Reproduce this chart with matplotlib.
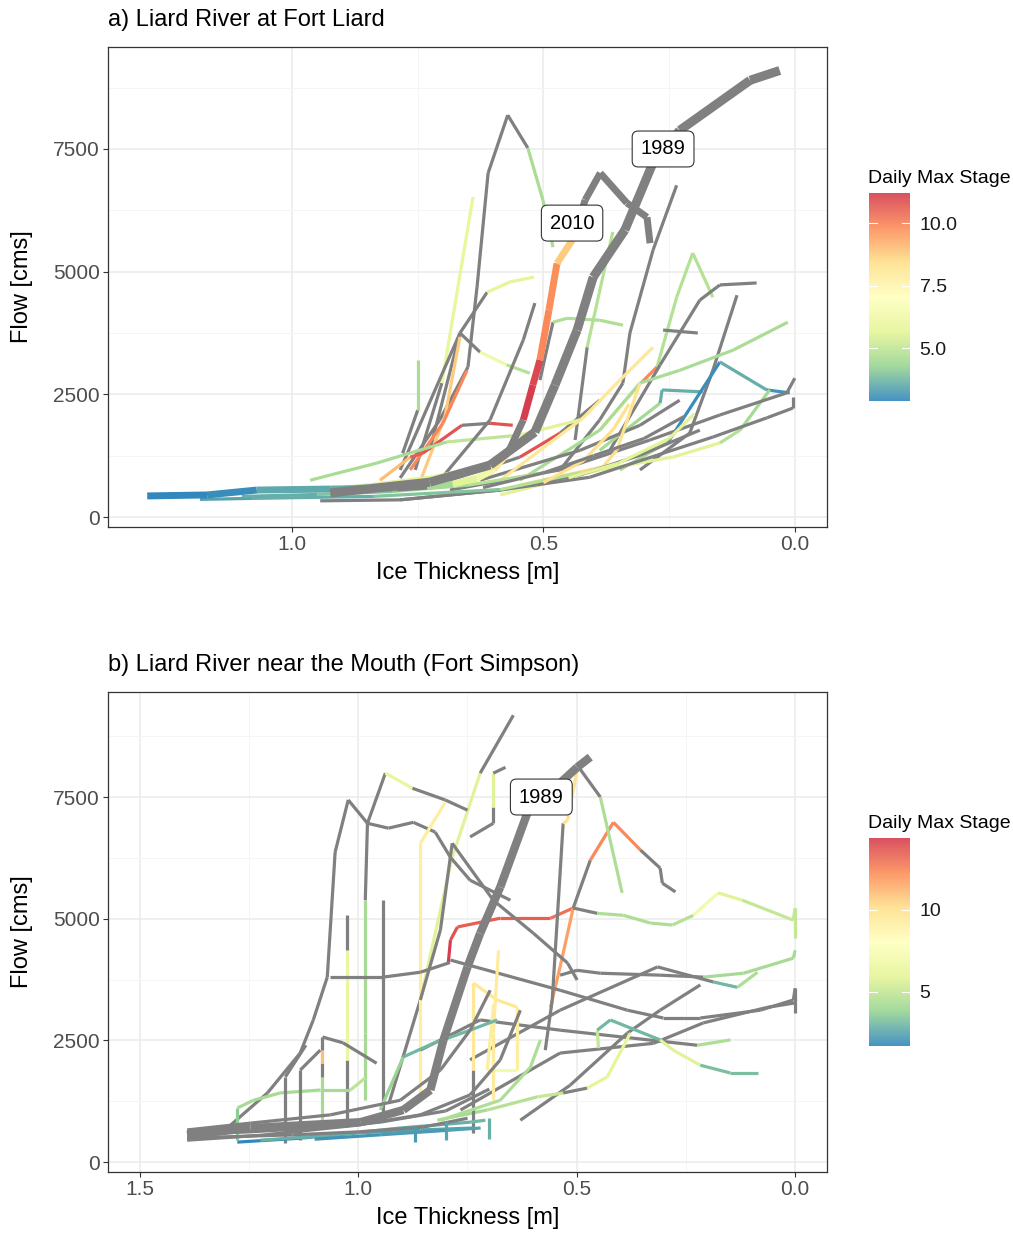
import numpy as np
import matplotlib
matplotlib.use("Agg")
import matplotlib.pyplot as plt
from matplotlib.collections import LineCollection
from matplotlib.colors import LinearSegmentedColormap, Normalize
from matplotlib.cm import ScalarMappable

plt.rcParams['font.family'] = ['Liberation Sans', 'DejaVu Sans']

nan = np.nan

# ---------------- a) Liard River at Fort Liard ----------------
# ice thickness [m], flow [cms], daily max stage (nan = no stage, drawn grey)
a1989_ice = [0.924, 0.726, 0.606, 0.517, 0.477, 0.433, 0.401, 0.338, 0.284, 0.229, 0.089, 0.030]
a1989_q = [490, 710, 1060, 1730, 2690, 3810, 4890, 5850, 7170, 7880, 8900, 9100]
a1989_stg = [nan] * 12

a2010_ice = [1.288, 1.169, 1.070, 0.924, 0.791, 0.731, 0.680, 0.632, 0.600, 0.570, 0.540,
             0.521, 0.507, 0.489, 0.473, 0.443, 0.417, 0.387, 0.334, 0.294, 0.288]
a2010_q = [430, 450, 550, 570, 590, 630, 670, 790, 960, 1320, 1980,
           2690, 3200, 4220, 5170, 5640, 6460, 7010, 6400, 6110, 5580]
a2010_stg = [2.9, 3.0, 3.5, 3.6, nan, 4.5, 5.6, 6.2, 8.0, nan, 11.2,
             11.0, 9.9, 9.8, 8.8, nan, nan, nan, nan, nan, nan]

a01_ice = [0.785, 0.706, 0.650, 0.632, 0.610, 0.571, 0.531, 0.501, 0.481]
a01_q = [795, 1980, 3060, 4690, 7010, 8190, 7520, 6460, 5500]
a01_stg = [nan, nan, nan, nan, nan, nan, 4.6, 4.6, 4.6]

a02_ice = [0.755, 0.702, 0.640]
a02_q = [960, 2730, 6520]
a02_stg = [nan, 5.8, 5.8]

a03_ice = [0.785, 0.666, 0.612, 0.567, 0.519]
a03_q = [960, 3750, 4580, 4790, 4890]
a03_stg = [nan, nan, 5.7, 5.7, 5.7]

a04_ice = [0.726, 0.666, 0.626, 0.573, 0.527]
a04_q = [1360, 3750, 3360, 3100, 2930]
a04_stg = [nan, nan, 6.2, 4.8, 4.8]

a05_ice = [0.742, 0.696, 0.666]
a05_q = [810, 2040, 3670]
a05_stg = [8.8, 8.8, 8.8]

a06_ice = [0.765, 0.700, 0.652]
a06_q = [960, 1910, 2990]
a06_stg = [9.9, 9.9, 9.9]

a07_ice = [0.825, 0.765, 0.740, 0.662, 0.606, 0.561]
a07_q = [750, 1220, 1300, 1870, 1910, 1870]
a07_stg = [9.0, 10.6, 10.8, nan, 10.8, 10.8]

a08_ice = [0.686, 0.547, 0.467, 0.388]
a08_q = [750, 1220, 1710, 2380]
a08_stg = [nan, 10.8, nan, nan]

a09_ice = [0.467, 0.388, 0.342, 0.328, 0.282, 0.235]
a09_q = [960, 1980, 2730, 3750, 5440, 6760]
a09_stg = [nan] * 6

a10_ice = [0.437, 0.413, 0.362]
a10_q = [1570, 3460, 5810]
a10_stg = [nan, 4.8, 4.8]

a11_ice = [0.507, 0.481, 0.453, 0.388, 0.342]
a11_q = [2790, 3970, 4050, 4010, 3910]
a11_stg = [nan, 4.7, 4.7, 4.7, 4.7]

a12_ice = [0.388, 0.306, 0.274, 0.235, 0.203, 0.163]
a12_q = [1770, 2730, 3060, 4480, 5380, 4480]
a12_stg = [8.0, 9.9, 4.8, 4.8, 4.8, 4.8]

a13_ice = [0.368, 0.268, 0.189, 0.149, 0.076]
a13_q = [1360, 3100, 4420, 4730, 4770]
a13_stg = [nan] * 5

a14_ice = [0.262, 0.193]
a14_q = [3810, 3750]
a14_stg = [nan, nan]

a15_ice = [0.308, 0.209, 0.163, 0.115]
a15_q = [960, 1710, 2990, 4520]
a15_stg = [nan] * 4

a16_ice = [0.547, 0.388, 0.308, 0.229, 0.123, 0.014]
a16_q = [750, 1770, 2730, 2990, 3400, 3970]
a16_stg = [4.6] * 6

a17_ice = [0.388, 0.268, 0.264, 0.183]
a17_q = [1360, 2320, 2590, 2550]
a17_stg = [4.5, 3.6, 3.6, 3.6]

a18_ice = [0.348, 0.252, 0.149, 0.056, 0.010]
a18_q = [960, 1530, 3160, 2590, 2530]
a18_stg = [4.5, 3.0, 3.6, 3.1, 3.1]

a19_ice = [0.586, 0.388, 0.243, 0.149, 0.109, 0.050]
a19_q = [450, 960, 1220, 1510, 1770, 2590]
a19_stg = [5.6, 5.6, 5.6, 4.8, 4.5, 4.5]

a20_ice = [0.785, 0.586, 0.408, 0.274, 0.163, 0.056, 0.004, 0.004]
a20_q = [350, 550, 810, 1260, 1630, 2020, 2220, 2450]
a20_stg = [nan] * 8

a21_ice = [0.686, 0.467, 0.288, 0.149, 0.016, 0.0]
a21_q = [550, 960, 1570, 2080, 2530, 2830]
a21_stg = [nan] * 6

a22_ice = [0.626, 0.427, 0.308, 0.229]
a22_q = [750, 1360, 1870, 2380]
a22_stg = [nan] * 4

a23_ice = [0.586, 0.421, 0.348, 0.282]
a23_q = [750, 2020, 2790, 3460]
a23_stg = [8.1] * 4

a24_ice = [0.547, 0.382, 0.354, 0.308]
a24_q = [650, 1020, 1360, 2730]
a24_stg = [8.6, 8.4, 8.3, 8.3]

a25_ice = [0.944, 0.785, 0.586, 0.427, 0.308, 0.189]
a25_q = [330, 350, 550, 860, 1260, 1770]
a25_stg = [nan] * 6

a26_ice = [1.183, 1.078, 0.839, 0.586, 0.427]
a26_q = [360, 380, 420, 560, 900]
a26_stg = [3.4, 3.6, 4.0, 4.8, 4.8]

a27_ice = [0.964, 0.831, 0.692, 0.547, 0.427]
a27_q = [750, 1100, 1530, 1670, 1980]
a27_stg = [4.6, 4.6, 5.0, 5.6, 5.6]

a28_ice = [0.780, 0.750, 0.750]
a28_q = [1300, 2180, 3200]
a28_stg = [nan, 4.6, 4.6]

a29_ice = [0.706, 0.606, 0.540, 0.517]
a29_q = [750, 1980, 3610, 4360]
a29_stg = [nan] * 4

a30_ice = [1.10, 0.95, 0.80, 0.65, 0.50]
a30_q = [420, 460, 520, 650, 900]
a30_stg = [3.6, 4.0, 4.5, 4.8, 5.6]

a31_ice = [0.95, 0.85, 0.72, 0.60]
a31_q = [560, 650, 820, 1080]
a31_stg = [4.8, 5.6, 5.8, 5.8]

a32_ice = [0.50, 0.42, 0.36, 0.33]
a32_q = [700, 1150, 1800, 2300]
a32_stg = [8.4, 8.4, 8.4, 8.4]

a33_ice = [0.45, 0.35, 0.25, 0.20]
a33_q = [800, 1100, 1600, 2100]
a33_stg = [5.6, 5.6, 5.6, 5.6]

a34_ice = [0.62, 0.50, 0.40, 0.30, 0.22]
a34_q = [600, 900, 1250, 1600, 2050]
a34_stg = [nan] * 5

# ---------------- b) Liard River near the Mouth ----------------
b1989_ice = [1.392, 1.247, 0.995, 0.897, 0.835, 0.805, 0.750, 0.721, 0.675, 0.613, 0.499, 0.469]
b1989_q = [555, 700, 820, 1070, 1480, 2510, 4010, 4700, 5650, 7170, 8110, 8320]
b1989_stg = [nan] * 12

b01_ice = [0.930, 0.858, 0.785, 0.721, 0.645]
b01_q = [1200, 3330, 6260, 7990, 9180]
b01_stg = [nan, 5.8, 5.8, nan, nan]

b02_ice = [0.744, 0.691, 0.691, 0.691, 0.663]
b02_q = [6680, 6960, 7290, 7990, 8110]
b02_stg = [nan, nan, 5.8, nan, nan]

b03_ice = [0.984, 0.984, 0.984, 0.979, 0.938, 0.876, 0.801, 0.750]
b03_q = [1270, 2650, 5380, 6960, 7990, 7680, 7440, 7230]
b03_stg = [4.2, 4.2, nan, nan, 6.2, nan, nan, nan]

b04_ice = [1.305, 1.208, 1.133, 1.103, 1.071, 1.053, 1.023, 0.979, 0.931, 0.874,
           0.824, 0.789, 0.744, 0.652]
b04_q = [660, 1420, 2240, 2920, 3800, 6370, 7440, 6960, 6860, 6980,
         6780, 6260, 5790, 5380]
b04_stg = [nan] * 14

b05_ice = [0.858, 0.858, 0.801]
b05_q = [1270, 6550, 7390]
b05_stg = [9.2, 9.2, 9.2]

b06_ice = [0.794, 0.789, 0.773, 0.675, 0.560, 0.508, 0.538, 0.560]
b06_q = [4090, 4560, 4830, 5010, 5010, 5220, 4010, 3180]
b06_stg = [14.4, 13.8, 13.5, 13.5, 13.0, 11.8, 11.8, 11.8]

b07_ice = [0.508, 0.469, 0.416, 0.354, 0.309, 0.304, 0.274]
b07_q = [5220, 6200, 6980, 6410, 6040, 5730, 5550]
b07_stg = [nan, 12.4, 12.4, nan, nan, nan, nan]

b08_ice = [0.492, 0.446, 0.396]
b08_q = [8070, 7500, 5530]
b08_stg = [nan, 4.4, 4.4]

b09_ice = [0.572, 0.556, 0.531, 0.521, 0.499]
b09_q = [2300, 3330, 6960, 7020, 8050]
b09_stg = [nan, nan, 10.0, 10.0, 10.0]

b10_ice = [0.508, 0.453, 0.393, 0.331, 0.281, 0.233, 0.176, 0.121, 0.004, 0.0, 0.0]
b10_q = [5220, 5110, 5070, 4910, 4870, 5070, 5530, 5380, 4970, 5220, 4600]
b10_stg = [nan, 4.4, 4.4, 4.4, 4.6, 7.0, 5.8, 5.0, 5.0, 5.0, 5.0]

b11_ice = [0.538, 0.499, 0.446, 0.309, 0.210, 0.118, 0.004, 0.0]
b11_q = [3840, 3940, 3880, 3840, 3800, 3880, 4190, 4350]
b11_stg = [nan, nan, nan, nan, 4.2, 4.2, 4.2, 4.2]

b12_ice = [0.744, 0.538, 0.315, 0.187, 0.132, 0.086]
b12_q = [2100, 3120, 4010, 3700, 3590, 3900]
b12_stg = [nan, nan, nan, 3.0, 4.4, 4.4]

b13_ice = [0.789, 0.538, 0.384, 0.302, 0.217, 0.080, 0.004, 0.0, 0.0]
b13_q = [4150, 3530, 3120, 2960, 2960, 3120, 3330, 3570, 3060]
b13_stg = [nan] * 9

b14_ice = [0.629, 0.515, 0.384, 0.309, 0.217]
b14_q = [860, 1580, 2650, 3120, 3640]
b14_stg = [nan] * 5

b15_ice = [0.766, 0.538, 0.324, 0.210, 0.063, 0.0]
b15_q = [1070, 2240, 2440, 2860, 3180, 3270]
b15_stg = [nan] * 6

b16_ice = [0.858, 0.721, 0.538, 0.224, 0.148]
b16_q = [2300, 2920, 2710, 2400, 2510]
b16_stg = [nan, nan, nan, 4.4, 4.4]

b17_ice = [0.450, 0.453, 0.423, 0.309, 0.279, 0.217, 0.148, 0.084]
b17_q = [2340, 2710, 2920, 2510, 2300, 1990, 1830, 1830]
b17_stg = [5.0, 3.0, 3.0, 5.8, 5.8, 3.2, 3.2, 3.2]

b18_ice = [0.819, 0.705, 0.590, 0.531, 0.476, 0.430, 0.377]
b18_q = [860, 1070, 1340, 1420, 1520, 1750, 2650]
b18_stg = [4.2, 4.6, 5.0, nan, 6.0, 6.0, 6.0]

b19_ice = [0.943, 0.943]
b19_q = [860, 5380]
b19_stg = [nan, nan]

b20_ice = [1.025, 1.025, 1.025, 1.025]
b20_q = [720, 2100, 4350, 5070]
b20_stg = [nan, 6.4, nan, nan]

b21_ice = [1.277, 1.277, 1.240, 1.179, 1.087, 1.018, 0.984]
b21_q = [450, 1110, 1270, 1420, 1480, 1480, 1730]
b21_stg = [3.6, 4.2, 4.2, 4.2, 4.2, 4.8, 4.8]

b22_ice = [1.167, 1.167, 1.120]
b22_q = [390, 1750, 2400]
b22_stg = [nan] * 3

b23_ice = [1.133, 1.133, 1.087]
b23_q = [450, 1890, 2300]
b23_stg = [nan] * 3

b24_ice = [1.082, 1.082, 1.082, 1.082, 1.082, 1.035, 0.958]
b24_q = [720, 1750, 2030, 2300, 2570, 2450, 2030]
b24_stg = [4.2, nan, 11.0, nan, nan, nan, nan]

b25_ice = [0.737, 0.737, 0.737, 0.682, 0.636, 0.636, 0.705, 0.690]
b25_q = [600, 1890, 3680, 3330, 3180, 1890, 1890, 3250]
b25_stg = [nan, 9.6, 9.6, 9.6, 9.2, 7.0, 9.2, 9.2]

b26_ice = [0.691, 0.691, 0.679]
b26_q = [1270, 2650, 4350]
b26_stg = [9.4, 9.4, 9.4]

b27_ice = [0.950, 0.897, 0.828, 0.744, 0.682]
b27_q = [1070, 2160, 2440, 2710, 2920]
b27_stg = [3.8, 3.0, 3.0, 3.0, 3.0]

b28_ice = [1.277, 1.133, 1.0, 0.858, 0.737]
b28_q = [410, 490, 600, 660, 700]
b28_stg = [1.7, 2.2, 2.4, 2.5, 2.5]

b29_ice = [1.224, 1.064, 0.904, 0.744, 0.709]
b29_q = [450, 550, 700, 820, 860]
b29_stg = [2.8, 2.8, 2.8, 3.0, 3.0]

b30_ice = [1.392, 1.224, 1.0, 0.858, 0.744, 0.675, 0.629]
b30_q = [450, 550, 760, 970, 1380, 2100, 3120]
b30_stg = [nan] * 7

b31_ice = [1.392, 1.247, 1.064, 0.904, 0.812, 0.744, 0.698]
b31_q = [660, 800, 970, 1270, 1890, 2710, 3530]
b31_stg = [nan] * 7

b32_ice = [0.812, 0.675, 0.606, 0.583]
b32_q = [860, 1270, 1950, 2510]
b32_stg = [4.4] * 4

b33_ice = [0.858, 0.812, 0.785, 0.691, 0.599, 0.521, 0.499]
b33_q = [3330, 4770, 6550, 5380, 4700, 4090, 3740]
b33_stg = [nan] * 7

b34_ice = [1.392, 1.30, 1.15, 1.0, 0.85, 0.75]
b34_q = [500, 520, 560, 620, 720, 900]
b34_stg = [nan] * 6

b35_ice = [1.39, 1.25, 1.10, 0.95, 0.80, 0.70]
b35_q = [580, 620, 700, 820, 1050, 1500]
b35_stg = [nan] * 6

b36_ice = [1.064, 0.943, 0.858, 0.790]
b36_q = [3800, 3800, 3900, 4100]
b36_stg = [nan] * 4

b37_ice = [0.870, 0.870]
b37_q = [420, 750]
b37_stg = [2.2, 2.2]

b38_ice = [0.800, 0.800]
b38_q = [450, 850]
b38_stg = [2.5, 2.5]

b39_ice = [0.700, 0.700]
b39_q = [480, 900]
b39_stg = [2.8, 2.8]

b40_ice = [1.10, 0.95, 0.80, 0.72]
b40_q = [470, 560, 650, 700]
b40_stg = [2.0, 2.2, 2.4, 2.6]

# label positions (year, ice, flow)
a_labels = [("1989", 0.262, 7500), ("2010", 0.443, 5990)]
b_labels = [("1989", 0.581, 7500)]

panel_a = [(a01_ice, a01_q, a01_stg), (a02_ice, a02_q, a02_stg), (a03_ice, a03_q, a03_stg),
           (a04_ice, a04_q, a04_stg), (a05_ice, a05_q, a05_stg), (a06_ice, a06_q, a06_stg),
           (a07_ice, a07_q, a07_stg), (a08_ice, a08_q, a08_stg), (a09_ice, a09_q, a09_stg),
           (a10_ice, a10_q, a10_stg), (a11_ice, a11_q, a11_stg), (a12_ice, a12_q, a12_stg),
           (a13_ice, a13_q, a13_stg), (a14_ice, a14_q, a14_stg), (a15_ice, a15_q, a15_stg),
           (a16_ice, a16_q, a16_stg), (a17_ice, a17_q, a17_stg), (a18_ice, a18_q, a18_stg),
           (a19_ice, a19_q, a19_stg), (a20_ice, a20_q, a20_stg), (a21_ice, a21_q, a21_stg),
           (a22_ice, a22_q, a22_stg), (a23_ice, a23_q, a23_stg), (a24_ice, a24_q, a24_stg),
           (a25_ice, a25_q, a25_stg), (a26_ice, a26_q, a26_stg), (a27_ice, a27_q, a27_stg),
           (a28_ice, a28_q, a28_stg), (a29_ice, a29_q, a29_stg), (a30_ice, a30_q, a30_stg),
           (a31_ice, a31_q, a31_stg), (a32_ice, a32_q, a32_stg), (a33_ice, a33_q, a33_stg),
           (a34_ice, a34_q, a34_stg)]
highlight_a = [(a2010_ice, a2010_q, a2010_stg, 5.0), (a1989_ice, a1989_q, a1989_stg, 6.5)]

panel_b = [(b01_ice, b01_q, b01_stg), (b02_ice, b02_q, b02_stg), (b03_ice, b03_q, b03_stg),
           (b04_ice, b04_q, b04_stg), (b05_ice, b05_q, b05_stg), (b06_ice, b06_q, b06_stg),
           (b07_ice, b07_q, b07_stg), (b08_ice, b08_q, b08_stg), (b09_ice, b09_q, b09_stg),
           (b10_ice, b10_q, b10_stg), (b11_ice, b11_q, b11_stg), (b12_ice, b12_q, b12_stg),
           (b13_ice, b13_q, b13_stg), (b14_ice, b14_q, b14_stg), (b15_ice, b15_q, b15_stg),
           (b16_ice, b16_q, b16_stg), (b17_ice, b17_q, b17_stg), (b18_ice, b18_q, b18_stg),
           (b19_ice, b19_q, b19_stg), (b20_ice, b20_q, b20_stg), (b21_ice, b21_q, b21_stg),
           (b22_ice, b22_q, b22_stg), (b23_ice, b23_q, b23_stg), (b24_ice, b24_q, b24_stg),
           (b25_ice, b25_q, b25_stg), (b26_ice, b26_q, b26_stg), (b27_ice, b27_q, b27_stg),
           (b28_ice, b28_q, b28_stg), (b29_ice, b29_q, b29_stg), (b30_ice, b30_q, b30_stg),
           (b31_ice, b31_q, b31_stg), (b32_ice, b32_q, b32_stg), (b33_ice, b33_q, b33_stg),
           (b34_ice, b34_q, b34_stg), (b35_ice, b35_q, b35_stg), (b36_ice, b36_q, b36_stg),
           (b37_ice, b37_q, b37_stg), (b38_ice, b38_q, b38_stg), (b39_ice, b39_q, b39_stg),
           (b40_ice, b40_q, b40_stg)]
highlight_b = [(b1989_ice, b1989_q, b1989_stg, 6.0)]

# Spectral (reversed) like ggplot's distiller
spectral = LinearSegmentedColormap.from_list(
    "spec", ["#3288BD", "#99D594", "#E6F598", "#FFFFBF", "#FEE08B", "#FC8D59", "#D53E4F"])
GREY = "#808080"
TXT = "#4D4D4D"


def draw_track(ax, ice, q, stg, norm, lw):
    pts = np.column_stack([ice, q])
    segs = np.stack([pts[:-1], pts[1:]], axis=1)
    cols = [GREY if np.isnan(s) else spectral(norm(s)) for s in stg[:-1]]
    lc = LineCollection(segs, colors=cols, linewidths=lw, capstyle='butt', joinstyle='round')
    ax.add_collection(lc)


def panel(rect, cbar_rect, title, lines, highlights, labels, xlim, ylim, xmajor, xminor, cticks, clabels):
    ax = fig.add_axes(rect)
    all_stg = np.concatenate([np.array(l[2], float) for l in lines + highlights])
    norm = Normalize(np.nanmin(all_stg), np.nanmax(all_stg))
    for ice, q, stg in lines:
        draw_track(ax, ice, q, stg, norm, 2.3)
    for ice, q, stg, lw in highlights:
        draw_track(ax, ice, q, stg, norm, lw)
    for txt, x, y in labels:
        ax.text(x, y, txt, ha='center', va='center', fontsize=14.5, color='black', zorder=5,
                bbox=dict(boxstyle='round,pad=0.42,rounding_size=0.3', fc='white', ec='#333333', lw=0.8))
    ax.set_xlim(*xlim)
    ax.set_ylim(*ylim)
    ax.set_xticks(xmajor)
    ax.set_xticks(xminor, minor=True)
    ax.set_yticks([0, 2500, 5000, 7500])
    ax.set_yticks([1250, 3750, 6250, 8750], minor=True)
    ax.set_xticklabels([f"{v:.1f}" for v in xmajor])
    ax.grid(True, which='major', color='#EBEBEB', lw=1.1, zorder=0)
    ax.grid(True, which='minor', color='#F4F4F4', lw=0.6, zorder=0)
    ax.set_axisbelow(True)
    ax.tick_params(which='major', length=3.5, width=0.8, color='#333333', labelsize=15,
                   labelcolor=TXT, pad=2.5)
    ax.tick_params(which='minor', length=0)
    for sp in ax.spines.values():
        sp.set_color('#333333')
        sp.set_linewidth(0.9)
    ax.set_xlabel("Ice Thickness [m]", fontsize=17, color='black')
    ax.set_ylabel("Flow [cms]", fontsize=17, color='black')
    ax.xaxis.set_label_coords(0.5, -0.073)
    ax.yaxis.set_label_coords(-0.104, 0.5)
    ax.set_title(title, loc='left', fontsize=17, pad=15, color='black')

    cax = fig.add_axes(cbar_rect)
    cb = fig.colorbar(ScalarMappable(norm=norm, cmap=spectral), cax=cax, alpha=0.9)
    cb.outline.set_visible(False)
    cb.set_ticks(cticks)
    cb.set_ticklabels(clabels)
    cax.tick_params(length=0, labelsize=14, pad=7, labelcolor='#1A1A1A')
    for v in cticks:
        cax.axhline(v, 0, 0.2, color='white', lw=0.8)
        cax.axhline(v, 0.8, 1, color='white', lw=0.8)
    fig.text(cbar_rect[0] - 0.001, cbar_rect[1] + cbar_rect[3] + 0.005, "Daily Max Stage",
             fontsize=14, ha='left', va='bottom', color='black')
    return ax


fig = plt.figure(figsize=(10.13, 12.34), dpi=100)

panel([0.1066, 0.5729, 0.7098, 0.389], [0.8578, 0.675, 0.0405, 0.1686],
      "a) Liard River at Fort Liard", panel_a, highlight_a, a_labels,
      (1.366, -0.064), (-204, 9578), [1.0, 0.5, 0.0], [0.75, 0.25],
      [5.0, 7.5, 10.0], ["5.0", "7.5", "10.0"])

panel([0.1066, 0.0502, 0.7098, 0.389], [0.8578, 0.1524, 0.0405, 0.1686],
      "b) Liard River near the Mouth (Fort Simpson)", panel_b, highlight_b, b_labels,
      (1.573, -0.073), (-205, 9657), [1.5, 1.0, 0.5, 0.0], [1.25, 0.75, 0.25],
      [5, 10], ["5", "10"])

fig.savefig("out.png", dpi=100)
